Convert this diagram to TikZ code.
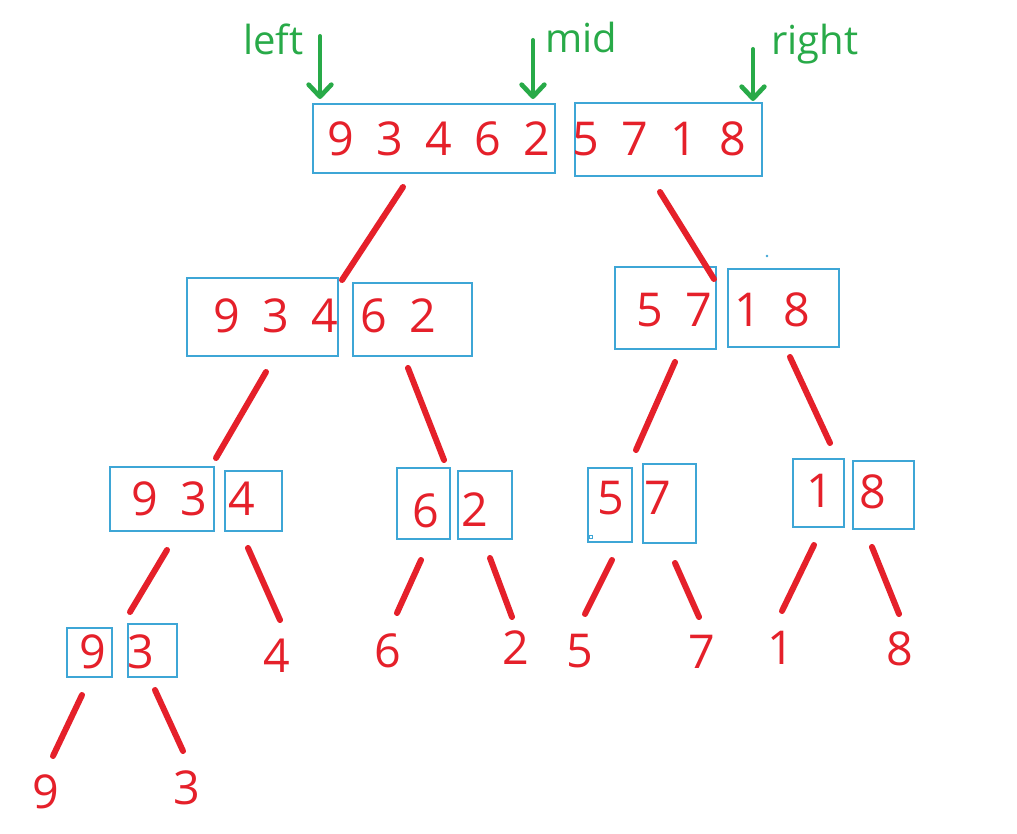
\documentclass[tikz,border=0pt]{standalone}
\usepackage{fontspec}
\setmainfont{Open Sans}
\usetikzlibrary{arrows.meta,fit}
\definecolor{numred}{RGB}{229,32,42}
\definecolor{boxblue}{RGB}{62,166,214}
\definecolor{ptrgreen}{RGB}{40,170,72}
\begin{document}
\begin{tikzpicture}[x=0.75pt,y=-0.75pt,
  box/.style={draw=boxblue,line width=1.1pt,inner sep=0pt},
  num/.style={text=numred,inner sep=0pt,
    font={\fontsize{35}{40}\selectfont\spaceskip=16.7pt\relax}},
  split/.style={draw=numred,line width=4.5pt,line cap=round},
  ptr/.style={draw=ptrgreen,line width=3pt,line cap=round,
    -{Straight Barb[length=9pt,width=17pt,line width=3.5pt,round]}},
  ptrlabel/.style={text=ptrgreen,anchor=base west,inner sep=0pt,
    font={\fontsize{30}{36}\selectfont}}]

\fill[white] (0,0) rectangle (1017,834);
\useasboundingbox (0,0) rectangle (1017,834);

% pointer labels and arrows
\node[ptrlabel] (lbleft) at (243,55) {left};
\node[ptrlabel] (lbmid) at (545,53) {mid};
\node[ptrlabel] (lbright) at (771,55) {right};
\coordinate (pl0) at (320,36);  \coordinate (pl1) at (320,99);
\coordinate (pm0) at (533,40);  \coordinate (pm1) at (533,99);
\coordinate (pr0) at (753,49);  \coordinate (pr1) at (753,101);
\draw[ptr] (pl0) -- (pl1);
\draw[ptr] (pm0) -- (pm1);
\draw[ptr] (pr0) -- (pr1);

% level 0
\node[box,fit={(313,104) (555,173)}] (b0l) {};
\node[box,fit={(575,103) (762,176)}] (b0r) {};
\node[num] (t0l) at (439,139) {9 3 4 6 2};
\node[num] (t0r) at (659,139) {5 7 1 8};

% level 1
\node[box,fit={(187,278) (338,356)}] (b1a) {};
\node[box,fit={(353,283) (472,356)}] (b1b) {};
\node[box,fit={(615,267) (716,349)}] (b1c) {};
\node[box,fit={(728,269) (839,347)}] (b1d) {};
\node[num] (t1a) at (276,316) {9 3 4};
\node[num] (t1b) at (398,316) {6 2};
\node[num] (t1c) at (674,310) {5 7};
\node[num] (t1d) at (772,310) {1 8};

% level 2
\node[box,fit={(110,467) (214,531)}] (b2a) {};
\node[box,fit={(225,471) (282,531)}] (b2b) {};
\node[box,fit={(397,468) (450,539)}] (b2c) {};
\node[box,fit={(458,471) (512,539)}] (b2d) {};
\node[box,fit={(588,468) (632,542)}] (b2e) {};
\node[box,fit={(643,464) (696,543)}] (b2f) {};
\node[box,fit={(793,459) (844,527)}] (b2g) {};
\node[box,fit={(853,461) (914,529)}] (b2h) {};
\node[num] (t2a) at (169,499) {9 3};
\node[num] (t2b) at (242,499) {4};
\node[num] (t2c) at (426,511) {6};
\node[num] (t2d) at (475,510) {2};
\node[num] (t2e) at (611,498) {5};
\node[num] (t2f) at (658,498) {7};
\node[num] (t2g) at (820,491) {1};
\node[num] (t2h) at (873,492) {8};
\fill[boxblue] (767,256) circle (1pt);
\draw[boxblue,line width=0.6pt] (589,535) rectangle (592,538);

% level 3
\node[box,fit={(67,628) (112,677)}] (b3a) {};
\node[box,fit={(128,624) (177,677)}] (b3b) {};
\node[num] (t3a) at (93,652) {9};
\node[num] (t3b) at (141,652) {3};

% single-element leaves
\node[num] (l4) at (277,656) {4};
\node[num] (l6) at (388,651) {6};
\node[num] (l2) at (516,648) {2};
\node[num] (l5) at (580,651) {5};
\node[num] (l7) at (702,652) {7};
\node[num] (l1) at (781,648) {1};
\node[num] (l8) at (900,649) {8};
\node[num] (l9) at (46,792) {9};
\node[num] (l3) at (187,788) {3};

% split strokes
\draw[split] (403,187) -- (342,280);
\draw[split] (660,192) -- (714,279);
\draw[split] (266,372) -- (216,458);
\draw[split] (408,368) -- (444,460);
\draw[split] (675,362) -- (636,450);
\draw[split] (790,357) -- (830,443);
\draw[split] (167,550) -- (130,612);
\draw[split] (248,548) -- (280,620);
\draw[split] (421,560) -- (397,613);
\draw[split] (490,558) -- (512,617);
\draw[split] (612,560) -- (585,614);
\draw[split] (675,563) -- (699,617);
\draw[split] (814,545) -- (782,611);
\draw[split] (872,547) -- (899,614);
\draw[split] (82,695) -- (53,756);
\draw[split] (155,690) -- (183,751);
\end{tikzpicture}
\end{document}
